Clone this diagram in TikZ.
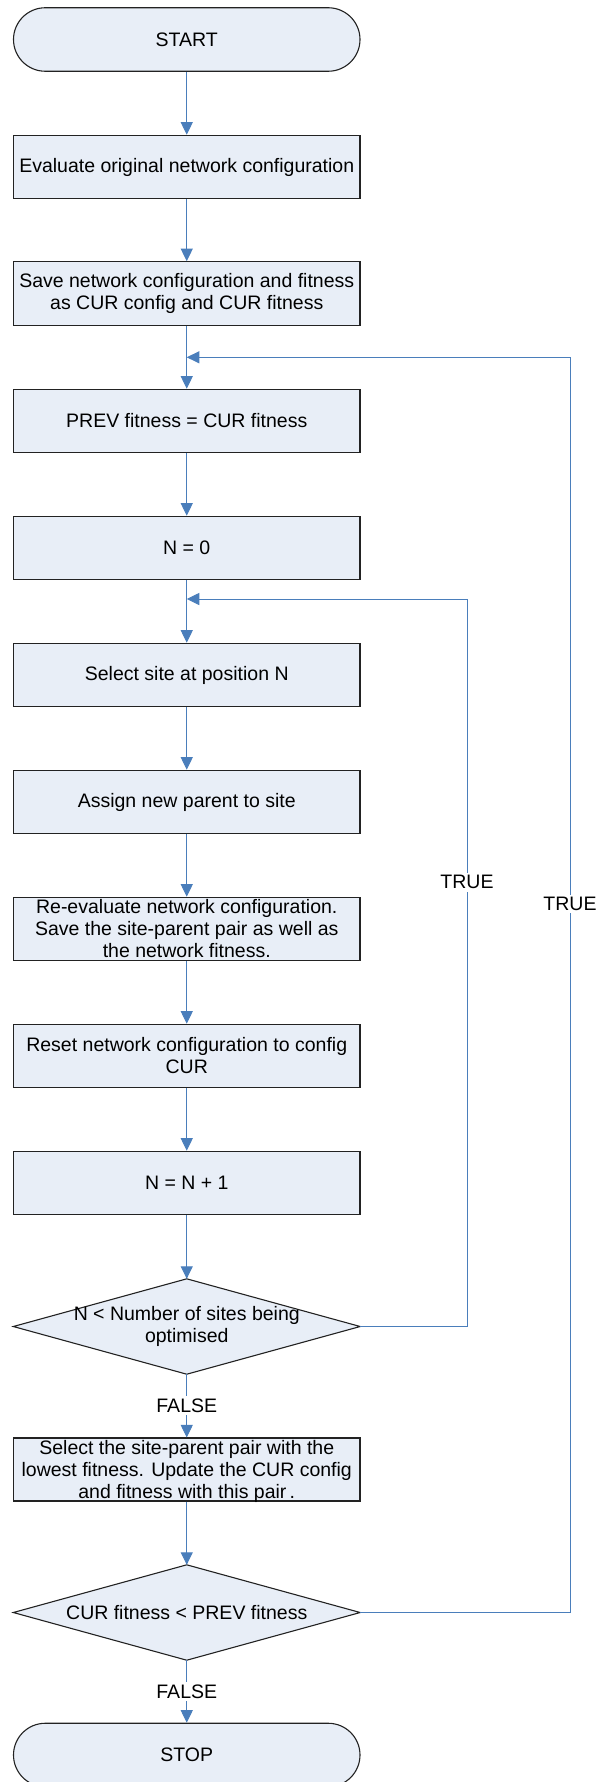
\documentclass[tikz,border=0pt]{standalone}
\usepackage{fontspec}
\setmainfont{Liberation Sans}
\usetikzlibrary{arrows.meta}
\definecolor{boxfill}{HTML}{E8EEF7}
\definecolor{boxline}{HTML}{222222}
\definecolor{connblue}{HTML}{4A7EBB}
\begin{document}
\begin{tikzpicture}[x=1pt,y=-1pt,
  every node/.style={font=\fontsize{19.5}{22}\selectfont},
  procbox/.style={draw=boxline,fill=boxfill,line width=1.1pt,minimum width=346.5pt,minimum height=63.5pt,inner sep=0pt,align=center},
  termbox/.style={procbox,rounded corners=31.75pt},
  dshape/.style={minimum width=346.5pt,minimum height=95pt,inner sep=0pt},
  dtext/.style={align=center,inner sep=0pt},
  conn/.style={draw=connblue,line width=0.9pt,-{Triangle[width=12pt,length=12.5pt]}},
  plainconn/.style={draw=connblue,line width=0.9pt},
  lbl/.style={fill=white,inner sep=2.5pt}
]
\useasboundingbox (0,0) rectangle (597,1782);
\def\cx{186.75}
\node[termbox] (start) at (\cx,39.5) {START};
\node[procbox] (eval) at (\cx,167) {Evaluate original network configuration};
\node[procbox] (save) at (\cx,293.5) {Save network configuration and fitness\\as CUR config and CUR fitness};
\node[procbox] (prev) at (\cx,421) {PREV fitness = CUR fitness};
\node[procbox] (nzero) at (\cx,548) {N = 0};
\node[procbox] (sel) at (\cx,675) {Select site at position N};
\node[procbox] (assign) at (\cx,802) {Assign new parent to site};
\node[procbox] (reeval) at (\cx,929) {Re-evaluate network configuration.\\Save the site-parent pair as well as\\the network fitness.};
\node[procbox] (reset) at (\cx,1056) {Reset network configuration to config\\CUR};
\node[procbox] (ninc) at (\cx,1183) {N = N + 1};
\node[dshape] (dA) at (\cx,1326.5) {};
\filldraw[draw=boxline,fill=boxfill,line width=1.1pt] (dA.north) -- (dA.east) -- (dA.south) -- (dA.west) -- cycle;
\node[dtext] (dAt) at (\cx,1326.5) {N < Number of sites being\\optimised};
\node[procbox,minimum height=63pt,text depth=0pt] (selpair) at (\cx,1469.5) {Select the site-parent pair with the\\lowest fitness. Update the CUR config\\and fitness with this pair\,.};
\node[dshape] (dB) at (\cx,1612.5) {};
\filldraw[draw=boxline,fill=boxfill,line width=1.1pt] (dB.north) -- (dB.east) -- (dB.south) -- (dB.west) -- cycle;
\node[dtext] (dBt) at (\cx,1612.5) {CUR fitness < PREV fitness};
\node[termbox] (stop) at (\cx,1755) {STOP};

\coordinate (jin) at (\cx,599);
\coordinate (jout) at (\cx,357.3);
\coordinate (cin) at (467,599);
\coordinate (cout) at (570,357.3);

\draw[conn] (start) -- (eval);
\draw[conn] (eval) -- (save);
\draw[conn] (save) -- (prev);
\draw[conn] (prev) -- (nzero);
\draw[conn] (nzero) -- (sel);
\draw[conn] (sel) -- (assign);
\draw[conn] (assign) -- (reeval);
\draw[conn] (reeval) -- (reset);
\draw[conn] (reset) -- (ninc);
\draw[conn] (ninc) -- (dA.north);
\draw[conn] (dA.south) -- node[lbl,pos=0.5] {FALSE} (selpair);
\draw[conn] (selpair) -- (dB.north);
\draw[conn] (dB.south) -- node[lbl,pos=0.5] {FALSE} (stop);
\draw[conn] (dA.east) -- (dA.east -| cin) -- (cin) -- (jin);
\draw[conn] (dB.east) -- (dB.east -| cout) -- (cout) -- (jout);
\node[lbl] (tA) at (467,882.3) {TRUE};
\node[lbl] (tB) at (570,904) {TRUE};
\end{tikzpicture}
\end{document}
